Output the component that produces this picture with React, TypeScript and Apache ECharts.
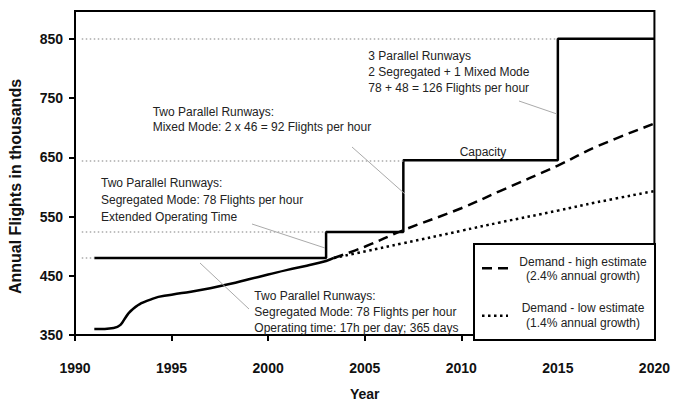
import React, { useEffect, useRef } from "react";
import * as echarts from "echarts";

const FONT = "'Liberation Sans', Arial, Helvetica, sans-serif";

// Capacity step line
const capYears = [1991, 2003, 2003, 2007, 2007, 2015, 2015, 2020];
const capValues = [480, 480, 524, 524, 645, 645, 850, 850];

// Dotted reference levels (from y axis to start of each capacity level)
const refLevels = [480, 524, 645, 850];
const refEnds = [1991, 2003, 2007, 2015];

// Actual demand
const actualYears = [1991, 1992, 1993, 1994, 1995, 1996, 1997, 1998, 1999, 2000, 2001, 2002, 2003, 2003.4];
const actualValues = [360, 362, 394, 411, 418, 423, 429, 436, 444, 452, 460, 467, 475, 480];

// High estimate demand (2.4%)
const highYears = [2003.4, 2005, 2007, 2010, 2012, 2015, 2017, 2020];
const highValues = [480, 499, 527, 564, 593, 636, 668, 707];

// Low estimate demand (1.4%)
const lowYears = [2003.4, 2005, 2007, 2010, 2012, 2015, 2017, 2020];
const lowValues = [480, 491, 505, 526, 540, 560, 574, 593];

const yTicks = [350, 450, 550, 650, 750, 850];

const zip = (xs: number[], ys: number[]) => xs.map((x, i) => [x, ys[i]]);

export default function App() {
  const ref = useRef<HTMLDivElement>(null);
  useEffect(() => {
    if (!ref.current) return;
    const chart = echarts.init(ref.current, undefined, { renderer: "svg" });
    const annStyle = (text: string, lh: number) => ({
      text,
      fill: "#222",
      font: `12px ${FONT}`,
      lineHeight: lh,
      align: "left",
      verticalAlign: "top",
    });
    chart.setOption({
      animation: false,
      backgroundColor: "#fff",
      grid: {
        left: 75,
        right: 17,
        top: 11,
        bottom: 66,
        show: true,
        borderColor: "#000",
        borderWidth: 2,
        containLabel: false,
      },
      xAxis: {
        type: "value",
        min: 1990,
        max: 2020,
        interval: 5,
        axisLine: { show: true, lineStyle: { color: "#000", width: 2 } },
        axisTick: { show: true, length: 6, lineStyle: { color: "#000", width: 2 } },
        axisLabel: {
          margin: 26,
          fontSize: 14,
          fontWeight: "bold",
          color: "#111",
          fontFamily: FONT,
          formatter: (v: number) => String(v),
        },
        splitLine: { show: false },
        name: "Year",
        nameLocation: "middle",
        nameGap: 52,
        nameTextStyle: { fontSize: 14, fontWeight: "bold", color: "#111", fontFamily: FONT },
      },
      yAxis: {
        type: "value",
        min: 350,
        max: 897,
        axisLine: { show: true, lineStyle: { color: "#000", width: 2 } },
        axisTick: { show: true, length: 6, customValues: yTicks, lineStyle: { color: "#000", width: 2 } },
        axisLabel: {
          customValues: yTicks,
          margin: 12,
          fontSize: 14,
          fontWeight: "bold",
          color: "#111",
          fontFamily: FONT,
          formatter: (v: number) => String(v),
        },
        splitLine: { show: false },
      },
      series: [
        {
          name: "Capacity",
          type: "line",
          data: zip(capYears, capValues),
          symbol: "none",
          lineStyle: { color: "#000", width: 2.5 },
          z: 4,
          markLine: {
            silent: true,
            symbol: ["none", "none"],
            label: { show: false },
            lineStyle: { color: "#aaa", width: 1.5, type: [1.5, 2.5] },
            data: refLevels.map((v, i) => [{ coord: [1990.35, v] }, { coord: [refEnds[i], v] }]),
          },
        },
        {
          name: "Demand",
          type: "line",
          data: zip(actualYears, actualValues),
          symbol: "none",
          smooth: 0.5,
          lineStyle: { color: "#000", width: 2.5 },
          z: 3,
        },
        {
          name: "Demand - high estimate",
          type: "line",
          data: zip(highYears, highValues),
          symbol: "none",
          smooth: 0.4,
          lineStyle: { color: "#000", width: 2.5, type: [10, 6] },
          z: 3,
        },
        {
          name: "Demand - low estimate",
          type: "line",
          data: zip(lowYears, lowValues),
          symbol: "none",
          smooth: 0.4,
          lineStyle: { color: "#000", width: 2.5, type: [2.5, 3.5] },
          z: 3,
        },
      ],
      graphic: [
        {
          type: "text",
          x: 15.5,
          y: 186.5,
          rotation: Math.PI / 2,
          style: { text: "Annual Flights in thousands", font: `bold 16px ${FONT}`, fill: "#111", align: "center", verticalAlign: "middle" },
        },
        // leader lines
        { type: "line", shape: { x1: 352, y1: 147, x2: 405, y2: 194 }, style: { stroke: "#aaa", lineWidth: 1 }, z: 5 },
        { type: "line", shape: { x1: 519, y1: 101, x2: 557, y2: 114 }, style: { stroke: "#aaa", lineWidth: 1 }, z: 5 },
        { type: "line", shape: { x1: 252, y1: 224, x2: 325, y2: 248 }, style: { stroke: "#aaa", lineWidth: 1 }, z: 5 },
        { type: "line", shape: { x1: 200, y1: 263, x2: 249, y2: 309 }, style: { stroke: "#aaa", lineWidth: 1 }, z: 5 },
        // annotations
        { type: "text", x: 152.7, y: 104.2, style: annStyle("Two Parallel Runways:\nMixed Mode: 2 x 46 = 92 Flights per hour", 15), z: 5 },
        { type: "text", x: 368.3, y: 48, style: annStyle("3 Parallel Runways\n2 Segregated + 1 Mixed Mode\n78 + 48 = 126 Flights per hour", 16), z: 5 },
        { type: "text", x: 101, y: 175, style: annStyle("Two Parallel Runways:\nSegregated Mode: 78 Flights per hour\nExtended Operating Time", 16.7), z: 5 },
        { type: "text", x: 254.3, y: 287.7, style: annStyle("Two Parallel Runways:\nSegregated Mode: 78 Flights per hour\nOperating time: 17h per day; 365 days", 16), z: 5 },
        {
          type: "text",
          x: 483,
          y: 151.7,
          style: { text: "Capacity", font: `12px ${FONT}`, fill: "#222", align: "center", verticalAlign: "middle" },
          z: 5,
        },
        // legend
        {
          type: "rect",
          shape: { x: 474, y: 244, width: 181, height: 96 },
          style: { fill: "#fff", stroke: "#000", lineWidth: 2 },
          z: 20,
        },
        { type: "line", shape: { x1: 482, y1: 268.3, x2: 508, y2: 268.3 }, style: { stroke: "#000", lineWidth: 2.5, lineDash: [10, 6] }, z: 21 },
        { type: "line", shape: { x1: 482, y1: 315.7, x2: 508, y2: 315.7 }, style: { stroke: "#000", lineWidth: 2.5, lineDash: [2.5, 3.5] }, z: 21 },
        {
          type: "text",
          x: 583,
          y: 268.6,
          style: { text: "Demand - high estimate\n(2.4% annual growth)", font: `12px ${FONT}`, fill: "#222", align: "center", verticalAlign: "middle", lineHeight: 14 },
          z: 21,
        },
        {
          type: "text",
          x: 583,
          y: 315.5,
          style: { text: "Demand - low estimate\n(1.4% annual growth)", font: `12px ${FONT}`, fill: "#222", align: "center", verticalAlign: "middle", lineHeight: 14.4 },
          z: 21,
        },
      ],
    });
    return () => chart.dispose();
  }, []);
  return <div ref={ref} style={{ position: "fixed", left: 0, top: 0, width: 673, height: 406, background: "#fff" }} />;
}
